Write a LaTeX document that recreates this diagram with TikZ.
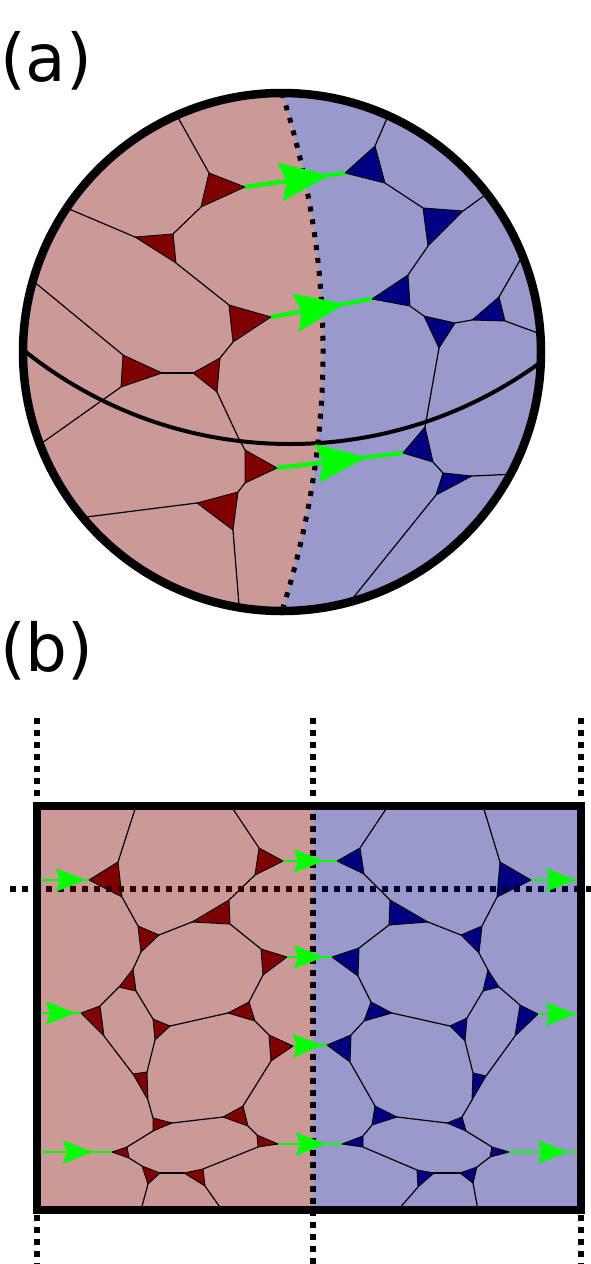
\documentclass[tikz,border=0pt]{standalone}
\usepackage{fontspec}
\setmainfont{DejaVu Sans}
\usetikzlibrary{arrows.meta,calc}
\definecolor{pinkc}{RGB}{204,153,153}
\definecolor{bluec}{RGB}{153,153,204}
\definecolor{pbred}{RGB}{128,0,0}
\definecolor{pbblue}{RGB}{0,0,128}
\definecolor{flowgreen}{RGB}{0,255,0}
\definecolor{dotred}{RGB}{51,0,0}
\definecolor{dotblue}{RGB}{0,0,51}
\newcommand\pbtri[4]{\draw[#1] (#2) -- (#3) -- (#4) -- cycle;}
\begin{document}
\begin{tikzpicture}[x=1pt,y=-1pt,
  film/.style={line width=1.2pt, line cap=round},
  pbr/.style={fill=pbred, draw=black, line width=0.9pt, line join=round},
  pbb/.style={fill=pbblue, draw=black, line width=0.9pt, line join=round},
  dotl/.style={line width=5pt, dash pattern=on 5pt off 8pt},
  dotb/.style={line width=5.5pt, dash pattern=on 5.5pt off 6.5pt},
  flowA/.style={draw=flowgreen, line width=4pt},
  headA/.style={draw=flowgreen, line width=4pt, -{Stealth[length=50pt,width=38pt,inset=6pt]}},
  flowB/.style={draw=flowgreen, line width=2.6pt},
  headB/.style={draw=flowgreen, line width=2.6pt, -{Stealth[length=30pt,width=23pt,inset=4pt]}},
  lab/.style={anchor=base west, inner sep=0pt, font=\fontsize{66}{80}\selectfont}
]
\useasboundingbox (0,0) rectangle (591,1264);

% ---------------- labels
\node[lab] (la) at (0,81) {(a)};
\node[lab] (lb) at (0,671) {(b)};

% ================= PANEL (a) =================
\coordinate (C) at (282,352);
% triangle vertices, left (red)
\coordinate (T1a) at (209,173); \coordinate (T1b) at (245,187); \coordinate (T1c) at (201,207);
\coordinate (T2a) at (135,237); \coordinate (T2b) at (173,234); \coordinate (T2c) at (176,263);
\coordinate (T3a) at (229,305); \coordinate (T3b) at (271,317); \coordinate (T3c) at (233,342);
\coordinate (T4a) at (123,355); \coordinate (T4b) at (162,373); \coordinate (T4c) at (121,387);
\coordinate (T5a) at (193,373); \coordinate (T5b) at (220,358); \coordinate (T5c) at (217,392);
\coordinate (T6a) at (245,450); \coordinate (T6b) at (277,468); \coordinate (T6c) at (245,483);
\coordinate (T7a) at (197,503); \coordinate (T7b) at (238,492); \coordinate (T7c) at (233,530);
% right (blue)
\coordinate (B1a) at (375,146); \coordinate (B1b) at (385,183); \coordinate (B1c) at (345,173);
\coordinate (B2a) at (423,208); \coordinate (B2b) at (463,211); \coordinate (B2c) at (428,246);
\coordinate (B3a) at (408,275); \coordinate (B3b) at (410,306); \coordinate (B3c) at (372,299);
\coordinate (B4a) at (424,316); \coordinate (B4b) at (455,323); \coordinate (B4c) at (439,348);
\coordinate (B5a) at (472,320); \coordinate (B5b) at (499,297); \coordinate (B5c) at (505,321);
\coordinate (B6a) at (425,427); \coordinate (B6b) at (433,462); \coordinate (B6c) at (403,453);
\coordinate (B7a) at (443,473); \coordinate (B7b) at (472,476); \coordinate (B7c) at (436,495);
% border points
\coordinate (e1) at (177,118); \coordinate (e2) at (68,211); \coordinate (e3) at (36,277);
\coordinate (e4) at (43,446); \coordinate (e5) at (81,511); \coordinate (e6) at (242,605);
\coordinate (e7) at (387,118); \coordinate (e8) at (483,197); \coordinate (e9) at (517,250);
\coordinate (e10) at (537,338); \coordinate (e11) at (510,468); \coordinate (e12) at (337,602);
% arrow tips
\coordinate (ha1) at (330,175.1);
\coordinate (ha2) at (345,303.8);
\coordinate (ha3) at (367,457.3);

\fill[bluec] (C) circle[radius=259];
\begin{scope}
  \clip (C) circle[radius=259];
  \fill[pinkc] (282,93) .. controls (336.7,265.7) and (336.7,438.3) .. (282,611)
     -- (282,700) -- (0,700) -- (0,0) -- (282,0) -- cycle;
  % films
  \draw[film] (T1a) -- ($(C)!1.05!(e1)$);
  \draw[film] (T1c) -- (T2b);
  \draw[film] (T2a) -- ($(C)!1.05!(e2)$);
  \draw[film] (T2c) -- (T3a);
  \draw[film] (T3c) -- (T5b);
  \draw[film] (T4b) -- (T5a);
  \draw[film] (T4a) -- ($(C)!1.05!(e3)$);
  \draw[film] (T4c) -- ($(C)!1.05!(e4)$);
  \draw[film] (T5c) -- (238,437) -- (T6a);
  \draw[film] (T6c) -- (T7b);
  \draw[film] (T7a) -- ($(C)!1.05!(e5)$);
  \draw[film] (T7c) -- ($(C)!1.05!(e6)$);
  \draw[film] (B1a) -- ($(C)!1.05!(e7)$);
  \draw[film] (B1b) -- (B2a);
  \draw[film] (B2b) -- ($(C)!1.05!(e8)$);
  \draw[film] (B2c) -- (B3a);
  \draw[film] (B3b) -- (B4a);
  \draw[film] (B4b) -- (B5a);
  \draw[film] (B5b) -- ($(C)!1.05!(e9)$);
  \draw[film] (B5c) -- ($(C)!1.05!(e10)$);
  \draw[film] (B4c) -- (B6a);
  \draw[film] (B6b) -- (B7a);
  \draw[film] (B7b) -- ($(C)!1.05!(e11)$);
  \draw[film] (B7c) -- ($(C)!1.05!(e12)$);
  % Plateau borders
  \pbtri{pbr}{T1a}{T1b}{T1c}
  \pbtri{pbr}{T2a}{T2b}{T2c}
  \pbtri{pbr}{T3a}{T3b}{T3c}
  \pbtri{pbr}{T4a}{T4b}{T4c}
  \pbtri{pbr}{T5a}{T5b}{T5c}
  \pbtri{pbr}{T6a}{T6b}{T6c}
  \pbtri{pbr}{T7a}{T7b}{T7c}
  \pbtri{pbb}{B1a}{B1b}{B1c}
  \pbtri{pbb}{B2a}{B2b}{B2c}
  \pbtri{pbb}{B3a}{B3b}{B3c}
  \pbtri{pbb}{B4a}{B4b}{B4c}
  \pbtri{pbb}{B5a}{B5b}{B5c}
  \pbtri{pbb}{B6a}{B6b}{B6c}
  \pbtri{pbb}{B7a}{B7b}{B7c}
  % thick curve
  \draw[line width=4pt] (290,19) circle[radius=425];
\end{scope}
% dotted interface
\draw[dotl] (282,93) .. controls (336.7,265.7) and (336.7,438.3) .. (282,611);
% green flow lines
\draw[flowA] (T1b) -- (B1c);
\draw[headA] (T1b) -- (ha1);
\draw[flowA] (T3b) -- (B3c);
\draw[headA] (T3b) -- (ha2);
\draw[flowA] (T6b) -- (B6c);
\draw[headA] (T6b) -- (ha3);
% outline
\draw[line width=8.5pt] (C) circle[radius=259];

% ================= PANEL (b) =================
% left (red)
\coordinate (P1a) at (118,862); \coordinate (P1b) at (122,897); \coordinate (P1c) at (89,880);
\coordinate (P2a) at (259,848); \coordinate (P2b) at (283,861); \coordinate (P2c) at (255,875);
\coordinate (P3a) at (138,926); \coordinate (P3b) at (159,935); \coordinate (P3c) at (141,952);
\coordinate (P4a) at (229,900); \coordinate (P4b) at (230,924); \coordinate (P4c) at (192,922);
\coordinate (P5a) at (261,949); \coordinate (P5b) at (287,957); \coordinate (P5c) at (263,975);
\coordinate (P6a) at (133,969); \coordinate (P6b) at (136,991); \coordinate (P6c) at (119,987);
\coordinate (P7a) at (81,1013); \coordinate (P7b) at (100,1006); \coordinate (P7c) at (104,1036);
\coordinate (P8a) at (153,1019); \coordinate (P8b) at (170,1026); \coordinate (P8c) at (155,1040);
\coordinate (P9a) at (228,1013); \coordinate (P9b) at (249,1002); \coordinate (P9c) at (255,1021);
\coordinate (P10a) at (269,1035); \coordinate (P10b) at (293,1046); \coordinate (P10c) at (271,1061);
\coordinate (P11a) at (133,1074); \coordinate (P11b) at (147,1072); \coordinate (P11c) at (148,1100);
\coordinate (P12a) at (153,1118); \coordinate (P12b) at (172,1123); \coordinate (P12c) at (153,1131);
\coordinate (P13a) at (223,1117); \coordinate (P13b) at (243,1106); \coordinate (P13c) at (248,1126);
\coordinate (P14a) at (112,1152); \coordinate (P14b) at (127,1147); \coordinate (P14c) at (129,1158);
\coordinate (P15a) at (257,1135); \coordinate (P15b) at (278,1144); \coordinate (P15c) at (258,1147);
\coordinate (P16a) at (142,1166); \coordinate (P16b) at (160,1173); \coordinate (P16c) at (148,1184);
\coordinate (P17a) at (184,1173); \coordinate (P17b) at (203,1169); \coordinate (P17c) at (205,1186);
% right (blue)
\coordinate (Q1a) at (337,861); \coordinate (Q1b) at (360,848); \coordinate (Q1c) at (364,874);
\coordinate (Q2a) at (390,900); \coordinate (Q2b) at (428,922); \coordinate (Q2c) at (389,925);
\coordinate (Q3a) at (332,957); \coordinate (Q3b) at (359,948); \coordinate (Q3c) at (358,976);
\coordinate (Q4a) at (461,935); \coordinate (Q4b) at (482,926); \coordinate (Q4c) at (479,953);
\coordinate (Q5a) at (500,862); \coordinate (Q5b) at (531,880); \coordinate (Q5c) at (497,897);
\coordinate (Q6a) at (488,970); \coordinate (Q6b) at (499,987); \coordinate (Q6c) at (483,991);
\coordinate (Q7a) at (371,1002); \coordinate (Q7b) at (392,1013); \coordinate (Q7c) at (364,1021);
\coordinate (Q8a) at (520,1005); \coordinate (Q8b) at (538,1014); \coordinate (Q8c) at (515,1036);
\coordinate (Q9a) at (450,1026); \coordinate (Q9b) at (467,1018); \coordinate (Q9c) at (465,1041);
\coordinate (Q10a) at (327,1045); \coordinate (Q10b) at (351,1035); \coordinate (Q10c) at (350,1062);
\coordinate (Q11a) at (473,1073); \coordinate (Q11b) at (486,1076); \coordinate (Q11c) at (472,1100);
\coordinate (Q14a) at (375,1106); \coordinate (Q14b) at (397,1117); \coordinate (Q14c) at (372,1125);
\coordinate (Q15a) at (447,1123); \coordinate (Q15b) at (462,1117); \coordinate (Q15c) at (466,1131);
\coordinate (Q16a) at (342,1144); \coordinate (Q16b) at (363,1136); \coordinate (Q16c) at (363,1147);
\coordinate (Q17a) at (492,1147); \coordinate (Q17b) at (509,1152); \coordinate (Q17c) at (490,1157);
\coordinate (Q18a) at (417,1170); \coordinate (Q18b) at (434,1173); \coordinate (Q18c) at (418,1187);
\coordinate (Q19a) at (460,1173); \coordinate (Q19b) at (477,1167); \coordinate (Q19c) at (473,1183);
% border points
\coordinate (f1) at (136,806); \coordinate (f2) at (231,806);
\coordinate (f3) at (388,806); \coordinate (f4) at (483,806);
\coordinate (g1) at (141,1210); \coordinate (g2) at (222,1210);
\coordinate (g3) at (398,1210); \coordinate (g4) at (478,1210);
\coordinate (L1) at (37,880); \coordinate (L2) at (37,1013); \coordinate (L3) at (37,1152);
\coordinate (R1) at (581,880); \coordinate (R2) at (581,1014); \coordinate (R3) at (581,1152);
% arrow tips
\coordinate (hb1) at (86,880);   \coordinate (hb2) at (324,861);
\coordinate (hb3) at (576,880);  \coordinate (hb4) at (324,957);
\coordinate (hb5) at (76,1013);  \coordinate (hb6) at (323,1045);
\coordinate (hb7) at (576,1014); \coordinate (hb8) at (93,1152);
\coordinate (hb9) at (326,1144); \coordinate (hb10) at (568,1152);

\fill[pinkc] (37,806) rectangle (313,1210);
\fill[bluec] (313,806) rectangle (581,1210);
% films, left
\draw[film] (f1) -- (P1a);
\draw[film] (P1b) -- (P3a);
\draw[film] (f2) -- (P2a);
\draw[film] (P2c) -- (P4a);
\draw[film] (P4c) -- (P3b);
\draw[film] (P4b) -- (P5a);
\draw[film] (P3c) -- (P6a);
\draw[film] (P6c) -- (P7b);
\draw[film] (P6b) -- (P8a);
\draw[film] (P8b) -- (P9a);
\draw[film] (P9b) -- (P5c);
\draw[film] (P9c) -- (P10a);
\draw[film] (P7c) -- (P11a);
\draw[film] (P8c) -- (P11b);
\draw[film] (P11c) -- (P12a);
\draw[film] (P12b) -- (P13a);
\draw[film] (P13b) -- (P10c);
\draw[film] (P13c) -- (P15a);
\draw[film] (P12c) -- (P14b);
\draw[film] (P14c) -- (P16a);
\draw[film] (P16b) -- (P17a);
\draw[film] (P15c) -- (P17b);
\draw[film] (P16c) -- (g1);
\draw[film] (P17c) -- (g2);
% films, right
\draw[film] (Q1b) -- (f3);
\draw[film] (Q1c) -- (Q2a);
\draw[film] (Q2b) -- (Q4a);
\draw[film] (Q4b) -- (Q5c);
\draw[film] (Q5a) -- (f4);
\draw[film] (Q2c) -- (Q3b);
\draw[film] (Q4c) -- (Q6a);
\draw[film] (Q3c) -- (Q7a);
\draw[film] (Q6b) -- (Q8a);
\draw[film] (Q6c) -- (Q9b);
\draw[film] (Q7b) -- (Q9a);
\draw[film] (Q7c) -- (Q10b);
\draw[film] (Q9c) -- (Q11a);
\draw[film] (Q8c) -- (Q11b);
\draw[film] (Q10c) -- (Q14a);
\draw[film] (Q11c) -- (Q15b);
\draw[film] (Q14b) -- (Q15a);
\draw[film] (Q14c) -- (Q16b);
\draw[film] (Q15c) -- (Q17a);
\draw[film] (Q16c) -- (Q18a);
\draw[film] (Q18b) -- (Q19a);
\draw[film] (Q17c) -- (Q19b);
\draw[film] (Q18c) -- (g3);
\draw[film] (Q19c) -- (g4);
% Plateau borders
\foreach \n in {1,...,17} {\pbtri{pbr}{P\n a}{P\n b}{P\n c}}
\foreach \n in {1,...,11,14,15,16,17,18,19} {\pbtri{pbb}{Q\n a}{Q\n b}{Q\n c}}
% dotted periodic lines
\draw[dotb] (313,718) -- (313,1264);
\draw[dotb] (10,889) -- (591,889);
\begin{scope}
  \clip (40,806) rectangle (313,1210);
  \draw[dotb, dotred] (10,889) -- (591,889);
\end{scope}
\begin{scope}
  \clip (315.8,806) rectangle (578,1210);
  \draw[dotb, dotblue] (10,889) -- (591,889);
\end{scope}
% green flow
\draw[flowB] (L1) -- (P1c);  \draw[headB] (L1) -- (hb1);
\draw[flowB] (P2b) -- (Q1a); \draw[headB] (P2b) -- (hb2);
\draw[flowB] (Q5b) -- (R1);  \draw[headB] (Q5b) -- (hb3);
\draw[flowB] (P5b) -- (Q3a); \draw[headB] (P5b) -- (hb4);
\draw[flowB] (L2) -- (P7a);  \draw[headB] (L2) -- (hb5);
\draw[flowB] (P10b) -- (Q10a); \draw[headB] (P10b) -- (hb6);
\draw[flowB] (Q8b) -- (R2);  \draw[headB] (Q8b) -- (hb7);
\draw[flowB] (L3) -- (P14a); \draw[headB] (L3) -- (hb8);
\draw[flowB] (P15b) -- (Q16a); \draw[headB] (P15b) -- (hb9);
\draw[flowB] (Q17b) -- (R3); \draw[headB] (Q17b) -- (hb10);
% frame
\draw[line width=8pt] (37,806) rectangle (581,1210);
\draw[dotb] (37,718) -- (37,802);
\draw[dotb] (581,718) -- (581,802);
\draw[dotb] (37,1215) -- (37,1264);
\draw[dotb] (581,1215) -- (581,1264);
\end{tikzpicture}
\end{document}
